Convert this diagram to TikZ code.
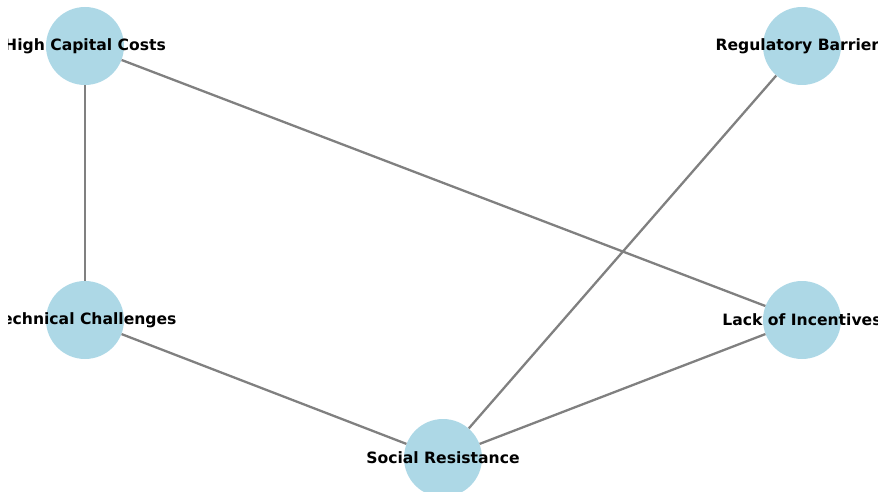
\documentclass[tikz,border=0pt]{standalone}
\usepackage{fontspec}
\setsansfont{DejaVu Sans}
\usetikzlibrary{positioning}
\definecolor{nodeblue}{RGB}{173,216,230}
\definecolor{edgegray}{RGB}{128,128,128}

\begin{document}
\begin{tikzpicture}[
  x=1pt, y=-1pt,
  dot/.style={circle, fill=nodeblue, draw=none, minimum size=78pt, inner sep=0pt},
  lbl/.style={font=\sffamily\bfseries\fontsize{15.6}{18}\selectfont, inner sep=0pt},
  e/.style={draw=edgegray, line width=2.3pt}]
\useasboundingbox (0,0) rectangle (878,492);
\node[dot] (hcc) at (85,46)  {};
\node[dot] (rb)  at (802,46) {};
\node[dot] (tc)  at (85,320) {};
\node[dot] (li)  at (802,320) {};
\node[dot] (sr)  at (443,458) {};
\draw[e] (hcc)--(tc);
\draw[e] (hcc)--(li);
\draw[e] (rb)--(sr);
\draw[e] (tc)--(sr);
\draw[e] (li)--(sr);
\begin{scope}
\clip (8,0) rectangle (878,492);
\node[lbl] at (hcc) {High Capital Costs};
\node[lbl] at (rb)  {Regulatory Barriers};
\node[lbl] at (tc)  {Technical Challenges};
\node[lbl] at (li)  {Lack of Incentives};
\node[lbl] at (sr)  {Social Resistance};
\end{scope}
\end{tikzpicture}
\end{document}
